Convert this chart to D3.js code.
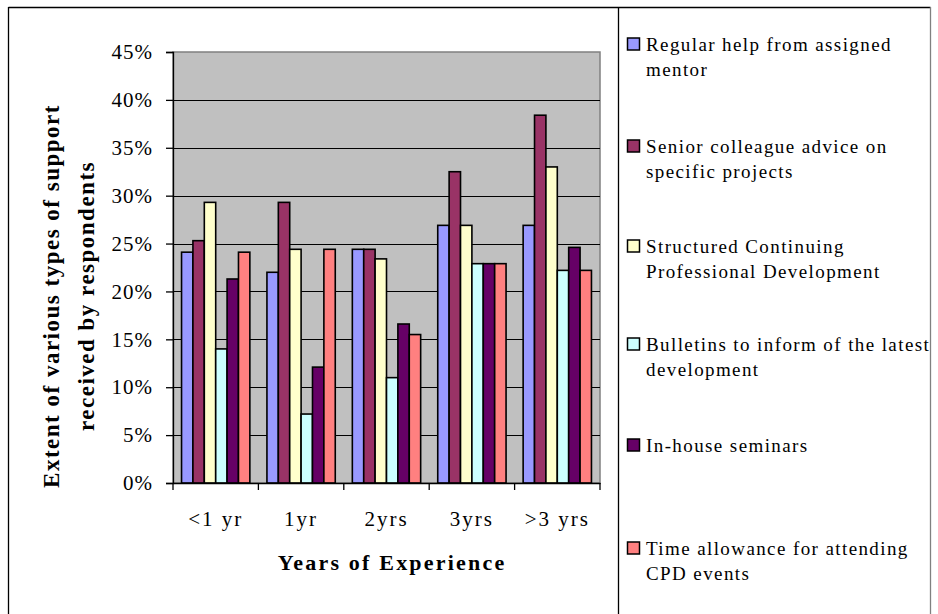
<!DOCTYPE html>
<html>
<head>
<meta charset="utf-8">
<script src="https://cdn.jsdelivr.net/npm/d3@7"></script>
<style>
  body { margin: 0; background: #fff; }
  svg { display: block; font-family: "Liberation Serif", "Times New Roman", serif; }
</style>
</head>
<body>
<div id="chart"></div>
<script>
// categories on the x axis
const categories = ["<1 yr", "1yr", "2yrs", "3yrs", ">3 yrs"];

// one array per support type (percent of respondents)
const mentorHelp   = [24.1, 22.0, 24.4, 26.9, 26.9];
const seniorAdvice = [25.3, 29.3, 24.4, 32.5, 38.4];
const structuredCpd = [29.3, 24.4, 23.4, 26.9, 33.0];
const bulletins    = [14.0, 7.2, 11.0, 22.9, 22.2];
const inHouse      = [21.3, 12.1, 16.6, 22.9, 24.6];
const timeAllow    = [24.1, 24.4, 15.5, 22.9, 22.2];

const seriesNames = [
    ["Regular help from assigned", "mentor"],
    ["Senior colleague advice on", "specific projects"],
    ["Structured Continuing", "Professional Development"],
    ["Bulletins to inform of the latest", "development"],
    ["In-house seminars"],
    ["Time allowance for attending", "CPD events"]
];
const seriesValues = [mentorHelp, seniorAdvice, structuredCpd, bulletins, inHouse, timeAllow];
const colors = ["#9999FF", "#993366", "#FFFFCC", "#CCFFFF", "#660066", "#FF8080"];

const yTicks = [0, 5, 10, 15, 20, 25, 30, 35, 40, 45];

const W = 938, H = 614;
const plot = { left: 173, right: 600, top: 52, bottom: 483 };
const serif = "Liberation Serif, Times New Roman, serif";

const svg = d3.select("#chart").append("svg")
    .attr("width", W)
    .attr("height", H);

// outer frame
svg.append("line").attr("x1", 8.5).attr("y1", 7.5).attr("x2", 930.5).attr("y2", 7.5)
    .attr("stroke", "#000").attr("stroke-width", 1.3);
svg.append("line").attr("x1", 8.5).attr("y1", 7).attr("x2", 8.5).attr("y2", H)
    .attr("stroke", "#000").attr("stroke-width", 1.3);
svg.append("line").attr("x1", 930.5).attr("y1", 7).attr("x2", 930.5).attr("y2", H)
    .attr("stroke", "#808080").attr("stroke-width", 1.3);
// legend box left edge
svg.append("line").attr("x1", 618.5).attr("y1", 7).attr("x2", 618.5).attr("y2", H)
    .attr("stroke", "#000").attr("stroke-width", 1.3);

const x = d3.scaleBand()
    .domain(categories)
    .range([plot.left, plot.right]);

const xInner = d3.scaleBand()
    .domain(d3.range(seriesValues.length))
    .range([0, x.bandwidth()])
    .paddingOuter(0.75);

const y = d3.scaleLinear()
    .domain([0, 45])
    .range([plot.bottom, plot.top]);

// plot background
svg.append("rect")
    .attr("x", plot.left).attr("y", plot.top)
    .attr("width", plot.right - plot.left).attr("height", plot.bottom - plot.top)
    .attr("fill", "#C0C0C0")
    .attr("stroke", "#808080").attr("stroke-width", 1.5);

// gridlines
svg.append("g").selectAll("line")
    .data(yTicks.filter(d => d > 0 && d < 45))
    .enter().append("line")
    .attr("x1", plot.left).attr("x2", plot.right)
    .attr("y1", d => Math.round(y(d)) + 0.5).attr("y2", d => Math.round(y(d)) + 0.5)
    .attr("stroke", "#000").attr("stroke-width", 1);

// bars
const groups = svg.append("g").selectAll("g")
    .data(seriesValues)
    .enter().append("g")
    .attr("fill", (d, i) => colors[i]);

groups.selectAll("rect")
    .data((vals, si) => vals.map((v, ci) => ({ v, ci, si })))
    .enter().append("rect")
    .attr("x", d => x(categories[d.ci]) + xInner(d.si))
    .attr("y", d => y(d.v))
    .attr("width", xInner.bandwidth())
    .attr("height", d => y(0) - y(d.v))
    .attr("stroke", "#000")
    .attr("stroke-width", 1.6);

// y axis
const yAxis = svg.append("g")
    .attr("transform", `translate(${plot.left},0)`)
    .call(d3.axisLeft(y).tickValues(yTicks).tickSize(7).tickPadding(13)
        .tickFormat(d => d + "%"));
yAxis.select(".domain").attr("stroke", "#000").attr("stroke-width", 1.3);
yAxis.selectAll(".tick line").attr("stroke", "#000").attr("stroke-width", 1.3);
yAxis.selectAll(".tick text")
    .attr("font-family", serif)
    .attr("font-size", 21).attr("fill", "#000")
    .style("letter-spacing", "1px");

// x axis
const xAxis = svg.append("g")
    .attr("transform", `translate(0,${plot.bottom})`)
    .call(d3.axisBottom(x).tickSize(0).tickPadding(28));
xAxis.select(".domain").attr("stroke", "#000").attr("stroke-width", 1.3);
xAxis.selectAll(".tick text")
    .attr("font-family", serif)
    .attr("font-size", 21).attr("fill", "#000")
    .style("letter-spacing", "2px");

// boundary ticks between categories
const bounds = categories.map(c => x(c)).concat([plot.right]);
xAxis.selectAll(".bound")
    .data(bounds)
    .enter().append("line")
    .attr("class", "bound")
    .attr("x1", d => d).attr("x2", d => d)
    .attr("y1", 0).attr("y2", 7)
    .attr("stroke", "#000").attr("stroke-width", 1.3);

// axis titles
svg.append("text")
    .attr("x", 392).attr("y", 570)
    .attr("text-anchor", "middle")
    .attr("font-size", 22).attr("font-weight", "bold")
    .style("letter-spacing", "2.2px")
    .text("Years of Experience");

const yTitle = svg.append("text")
    .attr("transform", "translate(59,296) rotate(-90)")
    .attr("text-anchor", "middle")
    .attr("font-size", 23).attr("font-weight", "bold")
    .style("letter-spacing", "1.5px");
yTitle.append("tspan").attr("x", 0).attr("y", 0)
    .text("Extent of various types of support");
yTitle.append("tspan").attr("x", 0).attr("y", 35)
    .text("received by respondents");

// legend
const legendTop = [51, 153, 253, 351, 452, 555];
const legend = svg.append("g").selectAll("g")
    .data(seriesNames)
    .enter().append("g")
    .attr("transform", (d, i) => `translate(0,${legendTop[i]})`);

legend.append("rect")
    .attr("x", 627.5).attr("y", -13)
    .attr("width", 12).attr("height", 12)
    .attr("fill", (d, i) => colors[i])
    .attr("stroke", "#000").attr("stroke-width", 1.5);

legend.append("text")
    .attr("font-size", 19)
    .style("letter-spacing", "1.4px")
    .selectAll("tspan")
    .data(d => d)
    .enter().append("tspan")
    .attr("x", 646)
    .attr("y", (d, i) => i * 25)
    .text(d => d);
</script>
</body>
</html>
